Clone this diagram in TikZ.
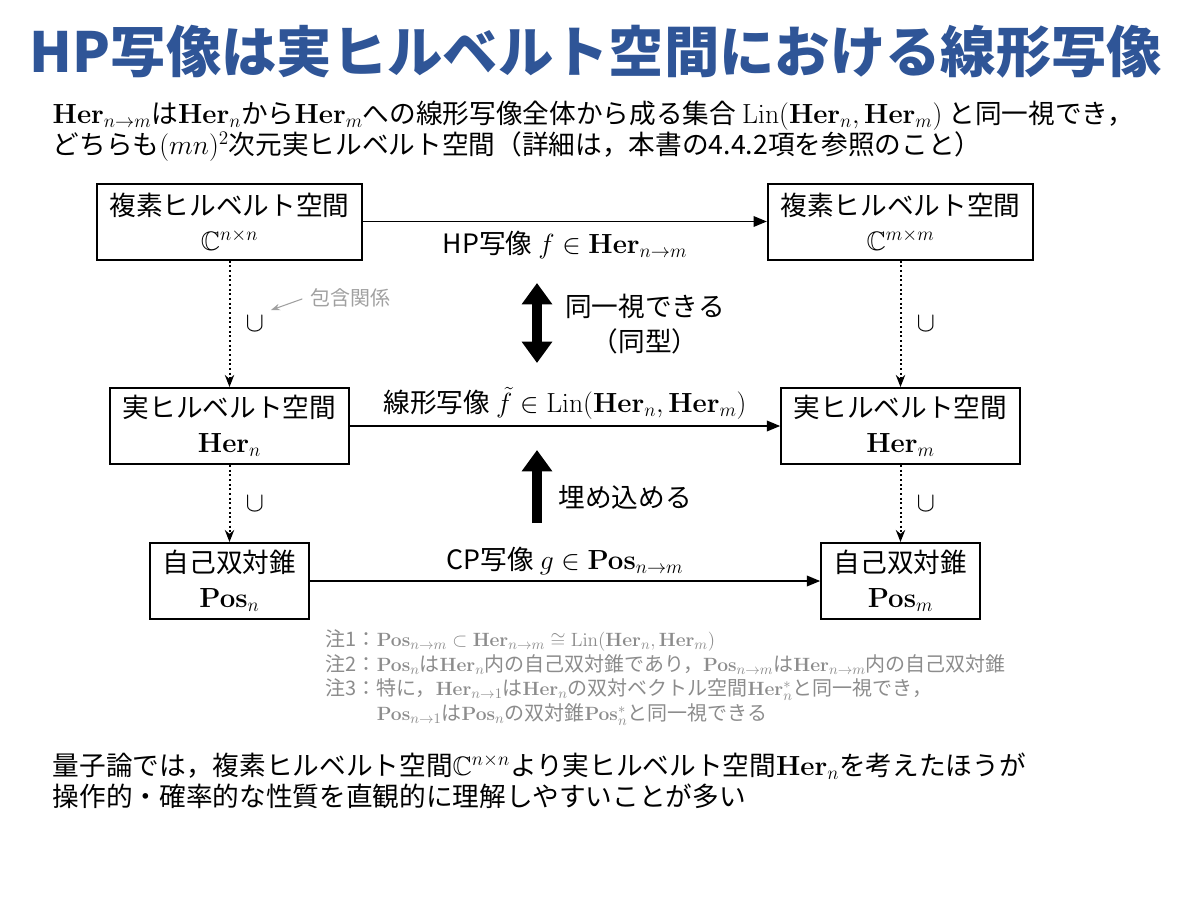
\documentclass[tikz,border=0pt]{standalone}
\usepackage{amsmath,amssymb}
\usepackage[no-math]{fontspec}
\setmainfont{Noto Sans CJK JP}
\usetikzlibrary{arrows.meta}
\definecolor{titleblue}{RGB}{47,85,151}
\definecolor{notegray}{RGB}{140,140,140}
\definecolor{hintgray}{RGB}{160,160,160}
\newcommand{\Her}{\mathbf{Her}}
\newcommand{\Pos}{\mathbf{Pos}}
\newcommand{\Lin}{\mathrm{Lin}}

\begin{document}
\begin{tikzpicture}[x=0.75pt,y=-0.75pt,
                    line width=1.1pt,
                    font=\fontsize{20}{26}\selectfont,
                    >={Triangle[length=10pt,width=8pt]}]
    \tikzstyle{space}=[draw,line width=1.5pt,minimum height=57pt,align=center,inner sep=0pt]
    \tikzstyle{mapping}=[->]
    \tikzstyle{inclusion}=[-{Stealth[length=9pt,width=7pt]},dotted,line width=1.5pt]
    \tikzstyle{subset}=[font=\fontsize{20}{22}\selectfont,xshift=19pt]
    \tikzstyle{body}=[align=left,anchor=north west,inner sep=0pt,font=\fontsize{20}{23.5}\selectfont]
    \tikzstyle{remark}=[body,text=notegray,font=\fontsize{15}{18.5}\selectfont]
    \tikzstyle{isoarrow}=[line width=7pt,{Triangle[length=16pt,width=22pt]}-{Triangle[length=16pt,width=22pt]}]
    \tikzstyle{embedarrow}=[line width=7pt,-{Triangle[length=16pt,width=22pt]}]

    \useasboundingbox (0,0) rectangle (1200,900);

    \node[text=titleblue,font=\fontsize{41.5}{50}\bfseries] (title) at (596,52) {HP写像は実ヒルベルト空間における線形写像};
    \node[body] (intro) at (52,100) {$\Her_{n\to m}$は$\Her_n$から$\Her_m$への線形写像全体から成る集合 $\Lin(\Her_n,\Her_m)$ と同一視でき，\\どちらも$(mn)^2$次元実ヒルベルト空間（詳細は，本書の4.4.2項を参照のこと）};

    \node[space,minimum width=199pt] (cplxn) at (229.5,221.5) {複素ヒルベルト空間\\$\mathbb{C}^{n\times n}$};
    \node[space,minimum width=199pt] (cplxm) at (900.5,221.5) {複素ヒルベルト空間\\$\mathbb{C}^{m\times m}$};
    \node[space,minimum width=179pt] (hern) at (229.5,426) {実ヒルベルト空間\\$\Her_n$};
    \node[space,minimum width=179pt] (herm) at (900.5,426) {実ヒルベルト空間\\$\Her_m$};
    \node[space,minimum width=119pt] (posn) at (229.5,581) {自己双対錐\\$\Pos_n$};
    \node[space,minimum width=119pt] (posm) at (900.5,581) {自己双対錐\\$\Pos_m$};

    \draw[mapping] (cplxn) -- node[below=3pt] (hplabel) {HP写像 $f\in\Her_{n\to m}$} (cplxm);
    \draw[mapping] (hern) -- node[above=1pt] (linlabel) {線形写像 $\tilde{f}\in\Lin(\Her_n,\Her_m)$} (herm);
    \draw[mapping] (posn) -- node[above=1pt] (cplabel) {CP写像 $g\in\Pos_{n\to m}$} (posm);

    \draw[inclusion] (cplxn) -- node[subset] (cupa) {$\cup$} (hern);
    \draw[inclusion] (hern) -- node[subset] (cupb) {$\cup$} (posn);
    \draw[inclusion] (cplxm) -- node[subset] (cupc) {$\cup$} (herm);
    \draw[inclusion] (herm) -- node[subset] (cupd) {$\cup$} (posm);

    \node[text=hintgray,font=\fontsize{15}{18}\selectfont] (incl) at (350,298) {包含関係};
    \draw[hintgray,line width=0.8pt,-{Stealth[length=7pt,width=5pt]},shorten <=2pt,shorten >=1pt] (incl.west) -- (cupa.north east);

    \coordinate (isotop) at (537,283);
    \coordinate (isobot) at (537,363);
    \draw[isoarrow] (isotop) -- (isobot);
    \node[align=center] (isolabel) at (645,324) {同一視できる\\（同型）};

    \coordinate (embtop) at (537,450);
    \coordinate (embbot) at (537,523);
    \draw[embedarrow] (embbot) -- (embtop);
    \node (emblabel) at (625,497) {埋め込める};

    \node[remark] (notes) at (325,629) {注1：$\Pos_{n\to m}\subset\Her_{n\to m}\cong\Lin(\Her_n,\Her_m)$\\注2：$\Pos_n$は$\Her_n$内の自己双対錐であり，$\Pos_{n\to m}$は$\Her_{n\to m}$内の自己双対錐\\注3：特に，$\Her_{n\to1}$は$\Her_n$の双対ベクトル空間$\Her_n^*$と同一視でき，\\\hphantom{注3：}$\Pos_{n\to1}$は$\Pos_n$の双対錐$\Pos_n^*$と同一視できる};

    \node[body] (summary) at (52,752) {量子論では，複素ヒルベルト空間$\mathbb{C}^{n\times n}$より実ヒルベルト空間$\Her_n$を考えたほうが\\操作的・確率的な性質を直観的に理解しやすいことが多い};
\end{tikzpicture}
\end{document}
